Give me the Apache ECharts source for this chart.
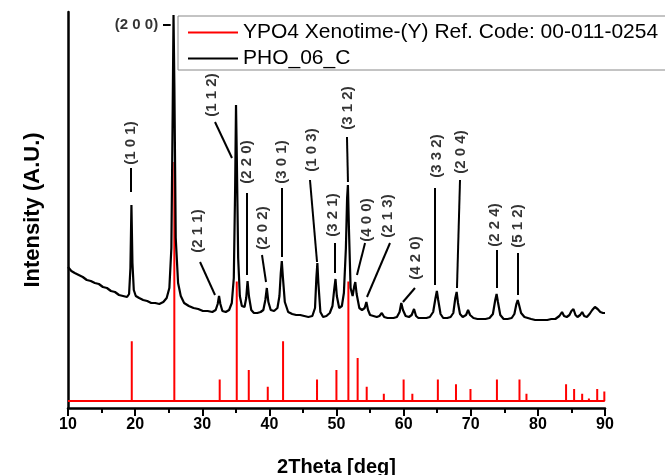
<!doctype html>
<html lang="en">
<head>
    <meta charset="UTF-8">
    <title>XRD PHO_06_C</title>
    <script src="https://cdn.jsdelivr.net/npm/echarts@6/dist/echarts.min.js"></script>
    <style>
        html, body { margin: 0; padding: 0; background: #fff; }
    </style>
</head>
<body>
    <div id="main" style="width: 665px;height:475px;"></div>
    <script>
        // measured pattern, [2theta, intensity]
        var samplePattern = [
            [10.0,141],[10.5,137],[11.0,135],[11.6,133],[12.2,131],[12.8,128],[13.4,127],[14.0,125],
            [14.6,124],[15.2,121],[15.8,120],[16.4,117],[17.0,116],[17.6,113],[18.2,112],[18.8,111],
            [19.1,114],[19.3,140],[19.45,203],[19.6,145],[19.8,118],[20.1,112],[20.6,110],[21.2,108],
            [21.8,107],[22.4,105],[23.0,105],[23.6,104],[24.2,106],[24.7,110],[25.1,120],[25.4,160],
            [25.6,300],[25.72,393],[25.85,320],[26.05,170],[26.4,125],[26.8,112],[27.3,105],[28.0,102],
            [28.7,100],[29.4,99],[30.1,97],[30.8,97],[31.5,96],[32.0,98],[32.3,104],[32.5,112],
            [32.7,104],[33.0,97],[33.5,96],[34.0,98],[34.4,105],[34.7,130],[34.9,220],[35.03,303],
            [35.15,250],[35.35,150],[35.6,112],[35.9,102],[36.3,101],[36.55,110],[36.75,127],[36.95,112],
            [37.3,98],[37.7,95],[38.2,95],[38.7,96],[39.1,98],[39.4,108],[39.62,120],[39.85,106],
            [40.2,98],[40.7,97],[41.2,100],[41.5,112],[41.7,135],[41.85,147],[42.0,132],[42.3,106],
            [42.8,96],[43.4,94],[44.0,93],[44.6,93],[45.2,92],[45.8,91],[46.4,92],[46.8,100],
            [47.0,130],[47.15,145],[47.3,125],[47.6,96],[48.0,91],[48.5,92],[49.0,95],[49.4,102],
            [49.65,118],[49.85,129],[50.05,112],[50.4,100],[50.8,102],[51.1,115],[51.4,160],[51.58,210],
            [51.7,223],[51.85,180],[52.1,120],[52.4,112],[52.65,122],[52.8,126],[53.0,114],[53.4,100],
            [53.8,98],[54.2,100],[54.45,106],[54.7,98],[55.0,93],[55.5,92],[56.0,91],[56.4,92],
            [56.75,95],[57.1,91],[57.6,90],[58.0,90],[58.5,90],[59.0,91],[59.4,96],[59.65,105],
            [59.9,98],[60.3,92],[60.8,91],[61.2,93],[61.55,99],[61.85,92],[62.2,90],[62.8,90],
            [63.4,90],[63.9,91],[64.4,96],[64.75,110],[64.95,117],[65.15,108],[65.5,94],[65.9,90],
            [66.5,90],[67.0,91],[67.4,95],[67.7,110],[67.9,116],[68.1,105],[68.4,94],[68.8,91],
            [69.3,93],[69.6,98],[69.9,93],[70.4,90],[71.0,89],[71.6,89],[72.2,89],[72.8,90],
            [73.3,94],[73.65,108],[73.85,114],[74.05,106],[74.4,93],[74.9,89],[75.5,89],[76.1,90],
            [76.5,94],[76.8,104],[77.0,108],[77.2,103],[77.5,95],[78.0,91],[78.5,90],[79.0,89],
            [79.6,88],[80.2,88],[80.8,88],[81.4,88],[82.0,89],[82.6,89],[83.2,92],[83.6,96],
            [83.9,92],[84.3,91],[84.7,93],[85.0,97],[85.3,99],[85.6,93],[85.9,91],[86.3,93],
            [86.6,96],[86.9,92],[87.3,91],[87.7,94],[88.1,98],[88.5,101],[88.9,99],[89.3,96],
            [89.7,95],[90.0,95]
        ];

        // reference card 00-011-0254 sticks
        var refPos = [19.5, 25.84, 32.6, 35.14, 36.93, 39.76, 42.04, 47.1, 49.99, 51.77, 53.15, 54.5, 57.05,
                      60.0, 61.3, 65.1, 67.8, 69.96, 73.9, 77.26, 78.3, 84.2, 85.4, 86.6, 87.6, 88.84, 89.9];
        var refInt = [25, 100, 9, 50, 13, 6, 25, 9, 13, 50, 18, 6, 3,
                      9, 3, 9, 7, 5, 9, 9, 3, 7, 5, 3, 1, 5, 4];
        var refBase = 7, refScale = 2.39;

        // hkl labels: [text, label x, label y, leader x1, y1, x2, y2, rotate]
        var hklLabels = [
            ['(1 0 1)', 19.4, 265, 19.4, 240, 19.4, 216, 90],
            ['(2 0 0)', 20.2, 383, 24.15, 383, 25.3, 383, 0],
            ['(2 1 1)', 29.37, 177, 29.67, 146, 31.9, 113, 90],
            ['(1 1 2)', 31.45, 313, 31.9, 286, 34.43, 250, 90],
            ['(2 2 0)', 36.67, 246, 36.67, 215, 36.67, 133, 90],
            ['(2 0 2)', 39.05, 180, 38.9, 153, 39.5, 126, 90],
            ['(3 0 1)', 41.88, 246, 41.88, 220, 41.88, 151, 90],
            ['(1 0 3)', 46.35, 258, 46.05, 228, 47.1, 146, 90],
            ['(3 2 1)', 49.45, 193, 49.75, 165, 49.75, 135, 90],
            ['(3 1 2)', 51.71, 300, 51.56, 271, 51.71, 226, 90],
            ['(4 0 0)', 54.54, 188, 54.25, 165, 53.05, 133, 90],
            ['(2 1 3)', 57.67, 192, 57.97, 165, 54.54, 111, 90],
            ['(4 2 0)', 61.84, 150, 61.69, 120, 59.9, 106, 90],
            ['(3 3 2)', 64.97, 252, 64.67, 220, 64.67, 123, 90],
            ['(2 0 4)', 68.55, 256, 68.4, 228, 67.95, 120, 90],
            ['(2 2 4)', 73.61, 183, 73.9, 158, 73.9, 120, 90],
            ['(5 1 2)', 77.04, 182, 77.0, 155, 77.0, 113, 90]
        ];

        var refName = 'YPO4 Xenotime-(Y) Ref. Code: 00-011-0254';
        var sampleName = 'PHO_06_C';
        var font = 'Liberation Sans, Arial, sans-serif';

        // stick pattern as one polyline on the base line
        var refLine = [[10, refBase]];
        refPos.forEach(function (p, i) {
            refLine.push([p, refBase], [p, refBase + refInt[i] * refScale], [p, refBase]);
        });
        refLine.push([90, refBase]);

        var labelPoints = hklLabels.map(function (h) {
            return {
                value: [h[1], h[2]],
                name: h[0],
                label: { rotate: h[7] }
            };
        });
        var leaders = hklLabels.map(function (h) {
            return [{ coord: [h[3], h[4]] }, { coord: [h[5], h[6]] }];
        });

        var myChart = echarts.init(document.getElementById('main'));
        myChart.setOption({
            backgroundColor: '#fff',
            animation: false,
            textStyle: { fontFamily: font },
            grid: { left: 68, right: 60, top: 12, bottom: 67, containLabel: false, outerBoundsMode: 'none' },
            legend: {
                data: [
                    { name: refName, icon: 'rect', itemStyle: { color: '#ff0000' } },
                    { name: sampleName, icon: 'rect', itemStyle: { color: '#000' } }
                ],
                orient: 'vertical',
                left: 178,
                top: 16,
                itemWidth: 50,
                itemHeight: 2,
                itemGap: 5,
                padding: [6, 12, 1, 10],
                backgroundColor: '#fff',
                borderColor: '#888',
                borderWidth: 1,
                borderRadius: 0,
                textStyle: { fontSize: 21, color: '#000', fontFamily: font }
            },
            xAxis: {
                type: 'value',
                min: 10,
                max: 90,
                interval: 10,
                name: '2Theta [deg]',
                nameLocation: 'middle',
                nameGap: 49,
                nameTextStyle: { fontSize: 20, fontWeight: 'bold', color: '#000' },
                axisLine: { lineStyle: { color: '#000', width: 2.5 } },
                axisTick: { length: 8, lineStyle: { width: 2, color: '#000' } },
                minorTick: { show: true, splitNumber: 2, length: 5, lineStyle: { width: 2, color: '#000' } },
                axisLabel: { fontSize: 16, fontWeight: 'bold', color: '#000', margin: 9 },
                splitLine: { show: false }
            },
            yAxis: {
                type: 'value',
                min: 0,
                max: 396,
                name: 'Intensity (A.U.)',
                nameLocation: 'middle',
                nameGap: 24,
                nameTextStyle: { fontSize: 22, fontWeight: 'bold', color: '#000' },
                axisLine: { show: true, lineStyle: { color: '#000', width: 2.5 } },
                axisTick: { show: false },
                axisLabel: { show: false },
                splitLine: { show: false }
            },
            series: [{
                name: refName,
                type: 'line',
                data: refLine,
                symbol: 'none',
                lineStyle: { color: '#ff0000', width: 2 },
                itemStyle: { color: '#ff0000' },
                z: 2
            }, {
                name: sampleName,
                type: 'line',
                data: samplePattern,
                symbol: 'none',
                lineStyle: { color: '#000', width: 2.2 },
                itemStyle: { color: '#000' },
                z: 3
            }, {
                name: 'hkl',
                type: 'scatter',
                data: labelPoints,
                symbolSize: 0,
                silent: true,
                z: 4,
                label: {
                    show: true,
                    position: 'inside',
                    formatter: '{b}',
                    fontSize: 15,
                    fontWeight: 'bold',
                    color: '#000'
                },
                markLine: {
                    silent: true,
                    symbol: ['none', 'none'],
                    label: { show: false },
                    lineStyle: { color: '#000', width: 2, type: 'solid' },
                    data: leaders
                }
            }]
        });
    </script>
</body>
</html>
